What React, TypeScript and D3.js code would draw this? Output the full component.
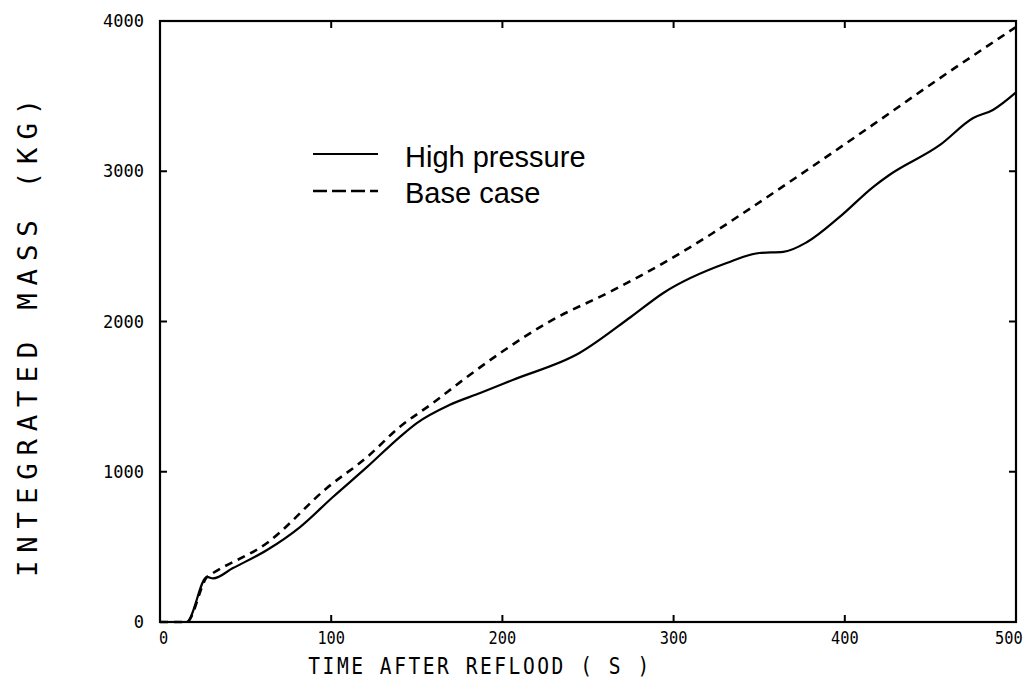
import React from "react";
import * as d3 from "d3";

const xTicks = [0, 100, 200, 300, 400, 500];
const yTicks = [0, 1000, 2000, 3000, 4000];

const highTime = [0, 15.5, 27.5, 31, 42.6, 62.5, 81.8, 101, 121, 140, 150, 169, 187, 206, 245, 275, 294, 331, 350, 364, 378, 397, 416.5, 426, 455.6, 475, 486.5, 500];
const highMass = [0, 0, 300, 290, 359, 479, 632, 832, 1032, 1231, 1324, 1444, 1524, 1611, 1790, 2030, 2190, 2389, 2456, 2463, 2529, 2696, 2895, 2975, 3175, 3354, 3408, 3525];

const baseTime = [0, 15.5, 27.5, 31, 62.5, 97.5, 121, 140, 159.5, 177, 200, 226, 265, 294, 323, 339, 378, 416.5, 455.6, 500];
const baseMass = [0, 0, 300, 326, 526, 892, 1098, 1298, 1458, 1611, 1800, 1990, 2210, 2389, 2589, 2709, 3008, 3310, 3620, 3960];

const legendLabels = ["High pressure", "Base case"];

export default function App() {
  const W = 1035, H = 687;
  const left = 160, right = 1016, top = 21, bottom = 622;
  const x = d3.scaleLinear().domain([0, 500]).range([left, right]);
  const y = d3.scaleLinear().domain([0, 4000]).range([bottom, top]);
  const line = d3.line<[number, number]>().x(d => x(d[0])).y(d => y(d[1])).curve(d3.curveMonotoneX);
  const highPath = line(highTime.map((t, i) => [t, highMass[i]]) as [number, number][]) || "";
  const basePath = line(baseTime.map((t, i) => [t, baseMass[i]]) as [number, number][]) || "";
  const mono = "'DejaVu Sans Mono', monospace";
  const sans = "'Liberation Sans', Arial, sans-serif";
  const tl = 7;
  return (
    <svg width={W} height={H} style={{ position: "absolute", left: 0, top: 0, background: "#fff" }}>
      <rect x={0} y={0} width={W} height={H} fill="#fff" />
      <rect x={left} y={top} width={right - left} height={bottom - top} fill="none" stroke="#000" strokeWidth={2.2} />
      {xTicks.map(t => (
        <g key={"x" + t}>
          {t > 0 && t < 500 && <line x1={x(t)} x2={x(t)} y1={bottom} y2={bottom - tl} stroke="#000" strokeWidth={2} />}
          {t > 0 && t < 500 && <line x1={x(t)} x2={x(t)} y1={top} y2={top + tl} stroke="#000" strokeWidth={2} />}
          <text x={x(t) + (t === 0 ? 4 : t === 500 ? -8 : 0)} y={bottom + 22} textAnchor="middle" fontFamily={mono} fontSize={17} transform={`translate(${x(t)},0) scale(0.9,1) translate(${-x(t)},0)`}>{t}</text>
        </g>
      ))}
      {yTicks.map(t => (
        <g key={"y" + t}>
          {t > 0 && t < 4000 && <line x1={left} x2={left + tl} y1={y(t)} y2={y(t)} stroke="#000" strokeWidth={2} />}
          {t > 0 && t < 4000 && <line x1={right} x2={right - tl} y1={y(t)} y2={y(t)} stroke="#000" strokeWidth={2} />}
          <text x={left - 16} y={y(t) + 6} textAnchor="end" fontFamily={mono} fontSize={17}>{t}</text>
        </g>
      ))}
      <path d={basePath} fill="none" stroke="#000" strokeWidth={2.6} strokeDasharray="8,6" />
      <path d={highPath} fill="none" stroke="#000" strokeWidth={2.2} />
      <line x1={313} x2={378} y1={154} y2={154} stroke="#000" strokeWidth={2.2} />
      <line x1={313} x2={378} y1={191} y2={191} stroke="#000" strokeWidth={2.4} strokeDasharray="14,5" />
      <text x={405} y={167} fontFamily={sans} fontSize={29}>{legendLabels[0]}</text>
      <text x={405} y={203} fontFamily={sans} fontSize={29}>{legendLabels[1]}</text>
      <text x={480} y={674} textAnchor="middle" fontFamily={mono} fontSize={23} letterSpacing={3} transform="translate(480,0) scale(0.85,1) translate(-480,0)">TIME AFTER REFLOOD ( S )</text>
      <text transform="translate(37,334) rotate(-90) scale(1.05,1)" textAnchor="middle" fontFamily={mono} fontSize={26} letterSpacing={7.5}>INTEGRATED MASS (KG)</text>
    </svg>
  );
}
